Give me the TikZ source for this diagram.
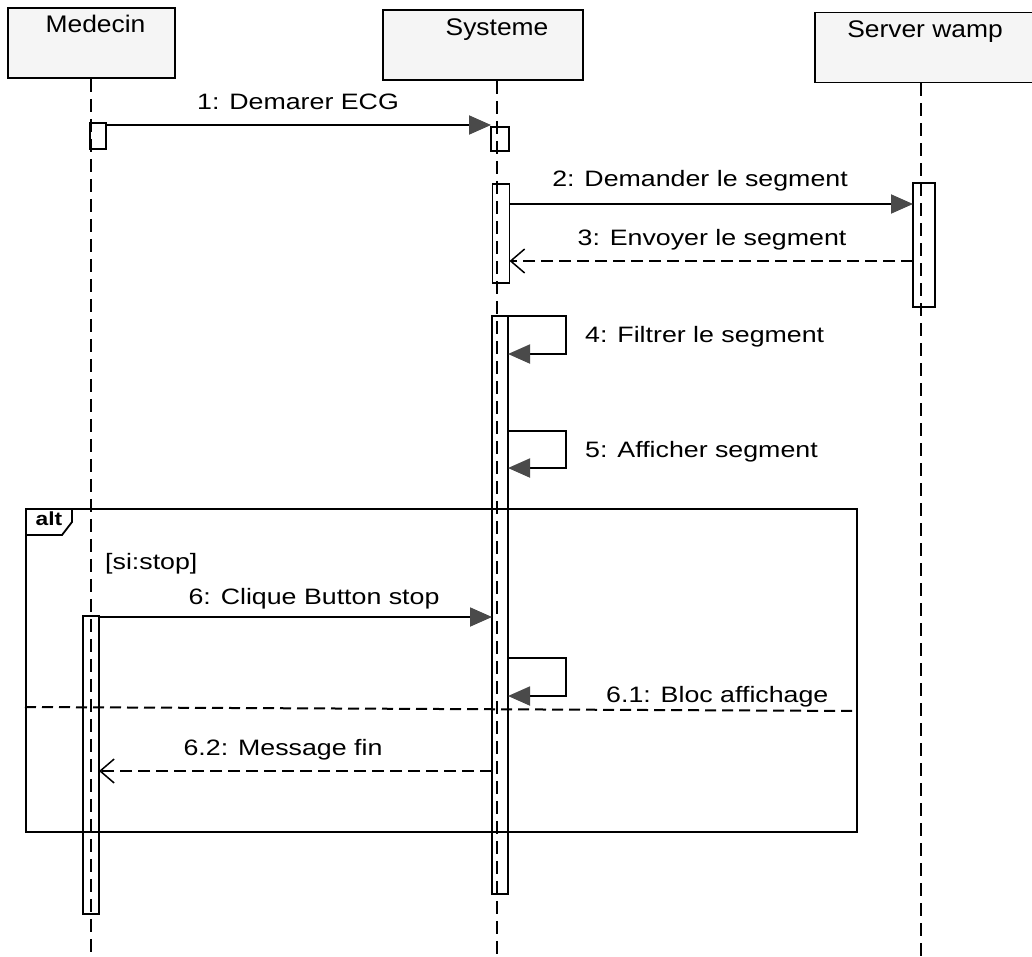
\documentclass[tikz,border=0pt]{standalone}
\usepackage{fontspec}
\setmainfont{Liberation Sans}[FakeStretch=1.2]
\newfontfamily\hdrfont{Liberation Sans}[FakeStretch=1.1]
\usepackage{xcolor}
\usetikzlibrary{positioning,arrows.meta}
\definecolor{tipgray}{HTML}{4A4A4A}
\tikzset{
  actor/.style={rectangle, draw=black, fill=black!4, line width=1.8pt, minimum width=#1, minimum height=70pt, inner sep=0pt},
  hdr/.style={font=\hdrfont\fontsize{24}{28}\selectfont, inner sep=0pt},
  lbl/.style={font=\fontsize{22.3}{26}\selectfont, inner sep=0pt, anchor=base},
  lifeline/.style={draw=black, line width=2pt, dash pattern=on 13pt off 7pt},
  act/.style={rectangle, draw=black, fill=white, line width=1.7pt, minimum width=#1, inner sep=0pt, anchor=north},
  msg/.style={draw=black, line width=1.9pt, -{Triangle[length=22pt,width=19pt,color=tipgray]}},
  ret/.style={draw=black, line width=1.9pt, dash pattern=on 12pt off 6pt, -{Straight Barb[length=14pt,width=24pt,line width=1.5pt]}},
  frame/.style={draw=black, line width=1.8pt},
  seq/.style={x=1pt, y=-1pt}
}
\begin{document}
\begin{tikzpicture}[seq]
  \useasboundingbox (0,0) rectangle (1032,957);
  % actors
  \node[actor=167pt] (med) at (91.5,43) {};
  \node[hdr, below=8pt of med.north, xshift=4pt] (medT) {Medecin};
  \node[actor=200pt] (sys) at (483,45) {};
  \node[hdr, below=9pt of sys.north, xshift=14pt] (sysT) {Systeme};
  \node[actor=220pt] (srv) at (925,47.5) {};
  \node[hdr, below=9pt of srv.north] (srvT) {Server wamp};
  % lifeline ends
  \coordinate (medE) at (91,957);
  \coordinate (sysE) at (497,957);
  \coordinate (srvE) at (921,957);
  % activations
  \node[act=16pt, minimum height=26pt] (am1) at (98,122) {};
  \node[act=18pt, minimum height=24pt] (as1) at (500,126) {};
  \node[act=17pt, minimum height=99pt] (as2) at (501,183) {};
  \node[act=22pt, minimum height=124pt] (aw1) at (924,182) {};
  \node[act=16pt, minimum height=578pt] (as3) at (500,315) {};
  \node[act=16pt, minimum height=298pt] (am2) at (91,615) {};
  % alt frame
  \node[frame, rectangle, minimum width=831pt, minimum height=323pt, anchor=north west, inner sep=0pt] (alt) at (25,508) {};
  \coordinate (tabA) at (72,508);
  \coordinate (tabB) at (72,522);
  \coordinate (tabC) at (62,535);
  \coordinate (tabD) at (25,535);
  \draw[frame] (tabA) -- (tabB) -- (tabC) -- (tabD);
  \node[lbl, font=\bfseries\fontsize{19}{23}\selectfont] (altT) at (49,525) {alt};
  \coordinate (divL) at (25,707);
  \coordinate (divR) at (856,711);
  \draw[lifeline, dash pattern=on 11pt off 6pt] (divL) -- (divR);
  % lifelines
  \draw[lifeline] (med.south -| medE) -- (medE);
  \draw[lifeline] (sys.south -| sysE) -- (sysE);
  \draw[lifeline] (srv.south -| srvE) -- (srvE);
  % message end points
  \coordinate (m1s) at (106,125);  \coordinate (m1e) at (491,125);
  \coordinate (m2s) at (509.5,204);  \coordinate (m2e) at (913,204);
  \coordinate (m3s) at (913,261);  \coordinate (m3e) at (509.5,261);
  \coordinate (m6s) at (99,617);  \coordinate (m6e) at (492,617);
  \coordinate (m62s) at (492,771); \coordinate (m62e) at (99,771);
  % messages
  \draw[msg] (m1s) -- (m1e);
  \draw[msg] (m2s) -- (m2e);
  \draw[ret] (m3s) -- (m3e);
  \draw[msg] (m6s) -- (m6e);
  \draw[ret] (m62s) -- (m62e);
  % self messages
  \foreach \name/\top/\bot in {s4/316/354, s5/431/468, s61/658/696}{
    \coordinate (\name a) at (508,\top);
    \coordinate (\name b) at (566,\top);
    \coordinate (\name c) at (566,\bot);
    \coordinate (\name d) at (508,\bot);
    \draw[msg] (\name a) -- (\name b) -- (\name c) -- (\name d);
  }
  % labels
  \node[lbl] (l1) at (298,110) {1: Demarer ECG};
  \node[lbl] (l2) at (700,187) {2: Demander le segment};
  \node[lbl] (l3) at (712,246) {3: Envoyer le segment};
  \node[lbl, anchor=base west] (l4) at (585,342) {4: Filtrer le segment};
  \node[lbl, anchor=base west] (l5) at (585,457) {5: Afficher segment};
  \node[lbl, anchor=base west] (guard) at (105,569) {[si:stop]};
  \node[lbl] (l6) at (314,604) {6: Clique Button stop};
  \node[lbl, anchor=base west] (l61) at (606,702) {6.1: Bloc affichage};
  \node[lbl] (l62) at (283,755) {6.2: Message fin};
\end{tikzpicture}
\end{document}
